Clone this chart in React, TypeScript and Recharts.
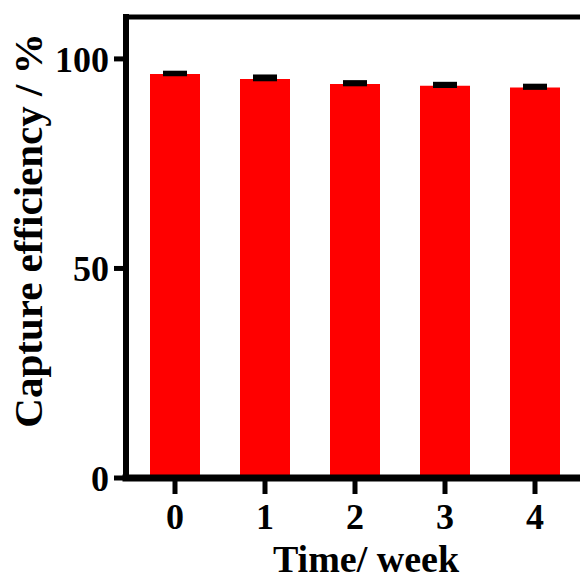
import React from 'react';
import { BarChart, Bar, XAxis, YAxis, ErrorBar, ReferenceLine } from 'recharts';

const weeks = ['0', '1', '2', '3', '4'];
const efficiency = [96.4, 95.2, 94.0, 93.6, 93.15];
const errUp = [0.25, 0.55, 0.4, 0.4, 0.4];
const yTicks = [0, 50, 100];

const data = weeks.map((w, i) => ({ week: w, value: efficiency[i], err: [0, errUp[i]] }));

const FONT = '"Liberation Serif", "Times New Roman", serif';

const YLabel = (props: any) => {
  const vb = props.viewBox || {};
  const cx = vb.x + 28;
  const cy = vb.y + vb.height / 2 - 17;
  return (
    <text
      x={cx}
      y={cy}
      transform={`rotate(-90 ${cx} ${cy})`}
      textAnchor="middle"
      dominantBaseline="central"
      fontFamily={FONT}
      fontWeight="bold"
      fontSize={41}
      fill="#000"
    >
      Capture efficiency / %
    </text>
  );
};

export default function App() {
  return (
    <div style={{ position: 'absolute', left: 0, top: 0 }}>
      <BarChart
        width={580}
        height={581}
        data={data}
        margin={{ top: 17, right: 0, left: 0, bottom: 0 }}
      >
        <XAxis
          dataKey="week"
          height={103}
          padding={{ left: 4, right: 0 }}
          axisLine={{ stroke: '#000', strokeWidth: 7, strokeLinecap: 'square' }}
          tickLine={{ stroke: '#000', strokeWidth: 5 }}
          tickSize={16}
          tickMargin={9}
          tick={{ fill: '#000', fontSize: 36, fontWeight: 'bold', fontFamily: FONT }}
          label={{
            value: 'Time/ week',
            position: 'insideBottom',
            offset: 9,
            dx: 13,
            fill: '#000',
            fontSize: 38,
            fontWeight: 'bold',
            fontFamily: FONT,
          }}
        />
        <YAxis
          width={126}
          domain={[0, 110]}
          ticks={yTicks}
          interval={0}
          axisLine={{ stroke: '#000', strokeWidth: 6, strokeLinecap: 'square' }}
          tickLine={{ stroke: '#000', strokeWidth: 5 }}
          tickSize={12}
          tickMargin={5}
          tick={{ fill: '#000', fontSize: 36, fontWeight: 'bold', fontFamily: FONT }}
          label={<YLabel />}
        />
        <ReferenceLine y={110} stroke="#000" strokeWidth={5} strokeLinecap="square" />
        <Bar dataKey="value" fill="#ff0000" barSize={50} isAnimationActive={false}>
          <ErrorBar
            dataKey="err"
            direction="y"
            width={12}
            stroke="#000"
            strokeWidth={4.5}
            isAnimationActive={false}
          />
        </Bar>
      </BarChart>
    </div>
  );
}
